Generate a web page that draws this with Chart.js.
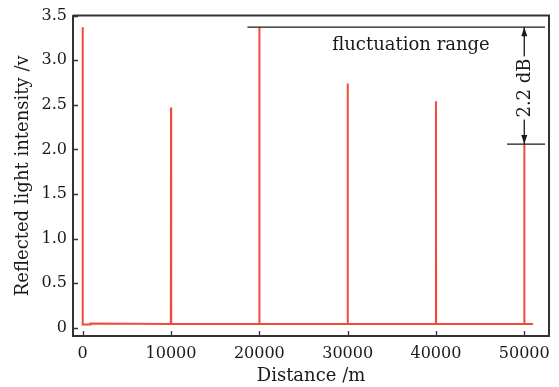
<!DOCTYPE html>
<html>
<head>
<meta charset="utf-8">
<script src="https://cdn.jsdelivr.net/npm/chart.js@4.4.1/dist/chart.umd.min.js"></script>
<style>
  html, body { margin: 0; padding: 0; background: #fff; }
  #wrap { width: 559px; height: 387px; }
</style>
</head>
<body>
<div id="wrap"><canvas id="c" width="559" height="387"></canvas></div>
<script>
// reflection trace: baseline ~0.045 V, peaks every 10 km
const distances = [0, 0, 870, 870, 9980, 10000, 10020, 19980, 20000, 20020, 29980, 30000, 30020, 39980, 40000, 40020, 49980, 50000, 50020, 51000];
const intensity = [3.37, 0.04, 0.04, 0.05, 0.045, 2.47, 0.045, 0.045, 3.37, 0.045, 0.045, 2.74, 0.045, 0.045, 2.54, 0.045, 0.045, 2.06, 0.045, 0.045];

const xTicks = [0, 10000, 20000, 30000, 40000, 50000];
const yTicks = [0, 0.5, 1.0, 1.5, 2.0, 2.5, 3.0, 3.5];

// fluctuation range marker
const rangeTop = 3.37;
const rangeBottom = 2.06;
const rangeTopFrom = 18650;
const rangeBottomFrom = 48050;
const rangeTo = 52350;
const arrowAt = 50000;
const rangeLabel = 'fluctuation range';
const rangeValue = '2.2 dB';

const serif = '"DejaVu Serif", "Liberation Serif", serif';
const ink = '#1a1a1a';

const points = distances.map((d, i) => ({ x: d, y: intensity[i] }));

const extras = {
  id: 'extras',
  afterDraw(chart) {
    const { ctx, chartArea: a, scales: { x, y } } = chart;
    ctx.save();
    // frame top + right
    ctx.strokeStyle = '#333';
    ctx.lineWidth = 2;
    ctx.beginPath();
    ctx.moveTo(a.left, a.top);
    ctx.lineTo(a.right, a.top);
    ctx.lineTo(a.right, a.bottom);
    ctx.stroke();
    // inward ticks
    ctx.lineWidth = 1.3;
    ctx.beginPath();
    xTicks.forEach(v => {
      const px = Math.round(x.getPixelForValue(v)) + 0.5;
      ctx.moveTo(px, a.bottom);
      ctx.lineTo(px, a.bottom - 5);
    });
    yTicks.forEach(v => {
      const py = Math.round(y.getPixelForValue(v)) + 0.5;
      ctx.moveTo(a.left, py);
      ctx.lineTo(a.left + 5, py);
    });
    ctx.stroke();

    // range lines
    ctx.strokeStyle = ink;
    ctx.lineWidth = 1.3;
    const yt = y.getPixelForValue(rangeTop);
    const yb = y.getPixelForValue(rangeBottom);
    const xa = x.getPixelForValue(arrowAt);
    ctx.beginPath();
    ctx.moveTo(x.getPixelForValue(rangeTopFrom), yt);
    ctx.lineTo(x.getPixelForValue(rangeTo), yt);
    ctx.moveTo(x.getPixelForValue(rangeBottomFrom), yb);
    ctx.lineTo(x.getPixelForValue(rangeTo), yb);
    ctx.moveTo(xa, yt);
    ctx.lineTo(xa, yb);
    ctx.stroke();
    // arrow heads
    ctx.fillStyle = ink;
    ctx.beginPath();
    ctx.moveTo(xa, yt);
    ctx.lineTo(xa - 3, yt + 9);
    ctx.lineTo(xa + 3, yt + 9);
    ctx.closePath();
    ctx.moveTo(xa, yb);
    ctx.lineTo(xa - 3, yb - 9);
    ctx.lineTo(xa + 3, yb - 9);
    ctx.closePath();
    ctx.fill();

    // labels
    ctx.font = '18px ' + serif;
    ctx.fillStyle = ink;
    ctx.textAlign = 'center';
    ctx.textBaseline = 'middle';
    ctx.fillText(rangeLabel, 411, 45);

    ctx.translate(xa, 88);
    ctx.rotate(-Math.PI / 2);
    const w = ctx.measureText(rangeValue).width;
    ctx.fillStyle = '#fff';
    ctx.fillRect(-w / 2 - 2, -9, w + 4, 18);
    ctx.fillStyle = ink;
    ctx.fillText(rangeValue, 0, 1);
    ctx.restore();
  }
};

new Chart(document.getElementById('c'), {
  type: 'line',
  data: {
    datasets: [{
      data: points,
      borderColor: '#ef4a3a',
      borderWidth: 2,
      pointRadius: 0,
      tension: 0,
      fill: false
    }]
  },
  options: {
    responsive: false,
    animation: false,
    events: [],
    layout: { padding: { top: 14, right: 10, left: 0, bottom: 0 } },
    plugins: { legend: { display: false }, tooltip: { enabled: false } },
    scales: {
      x: {
        type: 'linear',
        min: -1100,
        max: 52800,
        afterBuildTicks: s => { s.ticks = xTicks.map(v => ({ value: v })); },
        afterFit: s => { s.height = 51; },
        grid: { display: false, drawTicks: false },
        border: { display: true, color: '#333', width: 2 },
        ticks: {
          padding: 8,
          color: ink,
          font: { family: serif, size: 16 },
          maxRotation: 0,
          callback: v => String(v)
        },
        title: {
          display: true,
          text: 'Distance /m',
          color: ink,
          font: { family: serif, size: 18 },
          padding: { top: 0, bottom: 0 }
        }
      },
      y: {
        min: -0.09,
        max: 3.5,
        afterBuildTicks: s => { s.ticks = yTicks.map(v => ({ value: v })); },
        afterFit: s => { s.width = 73; },
        grid: { display: false, drawTicks: false },
        border: { display: true, color: '#333', width: 2 },
        ticks: {
          padding: 6,
          color: ink,
          font: { family: serif, size: 16 },
          callback: v => v === 0 ? '0' : v.toFixed(1)
        },
        title: {
          display: true,
          text: 'Reflected light intensity /v',
          color: ink,
          font: { family: serif, size: 18 },
          padding: { top: 13, bottom: 0 }
        }
      }
    }
  },
  plugins: [extras]
});
</script>
</body>
</html>
